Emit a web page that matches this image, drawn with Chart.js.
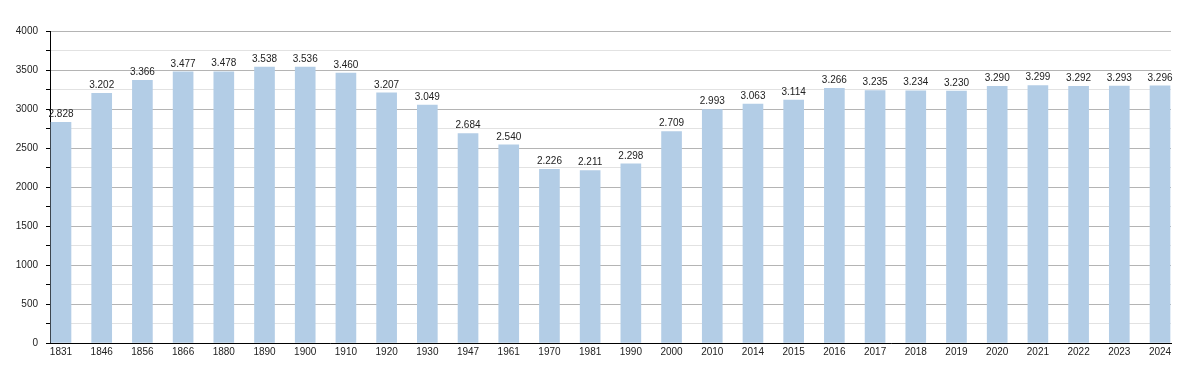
<!DOCTYPE html>
<html>
<head>
<meta charset="utf-8">
<script src="https://cdn.jsdelivr.net/npm/chart.js@4/dist/chart.umd.min.js"></script>
<style>
html,body{margin:0;padding:0;background:#fff;}
#wrap{width:1200px;height:373px;position:relative;}
</style>
</head>
<body>
<div id="wrap"><canvas id="c" width="1200" height="373"></canvas></div>
<script>
const years = ['1831','1846','1856','1866','1880','1890','1900','1910','1920','1930','1947','1961','1970','1981','1990','2000','2010','2014','2015','2016','2017','2018','2019','2020','2021','2022','2023','2024'];
const population = [2828,3202,3366,3477,3478,3538,3536,3460,3207,3049,2684,2540,2226,2211,2298,2709,2993,3063,3114,3266,3235,3234,3230,3290,3299,3292,3293,3296];
const yMin = 0, yMax = 4000, yStep = 250, yLabelStep = 500;

const FONT = '"Liberation Sans", Arial, sans-serif';
function fmt(v){ return String(v).replace(/\B(?=(\d{3})+(?!\d))/g, '.'); }

const labelPlugin = {
  id: 'barLabels',
  afterDatasetsDraw(chart){
    const ctx = chart.ctx;
    const meta = chart.getDatasetMeta(0);
    ctx.save();
    ctx.font = '10px ' + FONT;
    ctx.fillStyle = '#222';
    ctx.textAlign = 'center';
    ctx.textBaseline = 'bottom';
    meta.data.forEach((bar, i) => {
      ctx.fillText(fmt(population[i]), bar.x, bar.y - 3);
    });
    ctx.restore();
  }
};

new Chart(document.getElementById('c'), {
  type: 'bar',
  data: {
    datasets: [{
      data: population.map((v, i) => ({x: i, y: v})),
      backgroundColor: '#b3cde6',
      borderWidth: 0,
      barThickness: 20
    }]
  },
  options: {
    responsive: false,
    animation: false,
    layout: {padding: {left: 0, right: 29, top: 31, bottom: 0}},
    plugins: {legend: {display: false}, tooltip: {enabled: false}},
    scales: {
      x: {
        type: 'linear',
        offset: false,
        min: -0.27,
        max: years.length - 1 + 0.27,
        afterBuildTicks(scale){ scale.ticks = years.map((_, i) => ({value: i})); },
        afterFit(scale){ scale.height = 30; },
        grid: {display: false, drawTicks: false, offset: false},
        border: {display: true, color: '#000', width: 1},
        ticks: {
          autoSkip: false,
          maxRotation: 0,
          padding: 3,
          font: {family: FONT, size: 10},
          color: '#222',
          callback: (v) => years[v]
        }
      },
      y: {
        min: yMin,
        max: yMax,
        afterFit(scale){ scale.width = 50; },
        border: {display: true, color: '#000', width: 1},
        grid: {
          color: (c) => (c.tick && c.tick.value % yLabelStep === 0) ? '#b4b4b4' : '#e2e2e2',
          tickColor: '#000',
          tickLength: 4,
          drawOnChartArea: true
        },
        ticks: {
          stepSize: yStep,
          padding: 8,
          font: {family: FONT, size: 10},
          color: '#222',
          callback: (v) => (v % yLabelStep === 0) ? String(v) : ''
        }
      }
    }
  },
  plugins: [labelPlugin]
});
</script>
</body>
</html>
